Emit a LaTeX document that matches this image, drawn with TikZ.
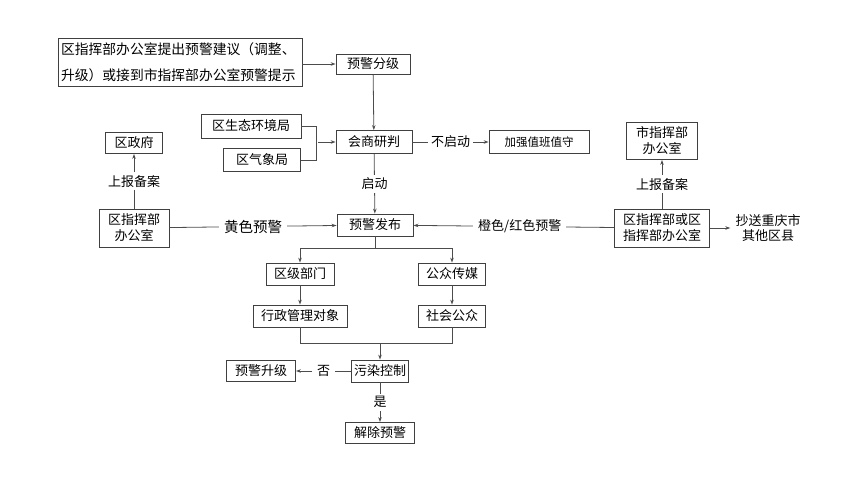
\documentclass[tikz,border=0pt]{standalone}
\usepackage{fontspec}
\setmainfont{Noto Sans CJK SC}
\usetikzlibrary{arrows.meta}
\begin{document}
\begin{tikzpicture}[x=1pt,y=-1pt]
    \tikzstyle{kuang}=[draw=black!75, line width=0.8pt, inner sep=0pt, minimum height=22pt, font=\fontsize{13}{15}\selectfont, align=center]
    \tikzstyle{lbl}=[fill=white, inner sep=3pt, font=\fontsize{13}{15}\selectfont]
    \tikzstyle{xian}=[draw=black!70, line width=0.8pt]
    \tikzstyle{jt}=[xian, -{Stealth[length=5pt,width=3.5pt]}]
    \useasboundingbox (0,0) rectangle (849,487);
    % top part
    \node[kuang, minimum width=244pt, minimum height=48pt, text width=238pt, align=left, font=\fontsize{13.8}{26}\selectfont] (tl) at (180,62) {区指挥部办公室提出预警建议（调整、\\升级）或接到市指挥部办公室预警提示};
    \node[kuang, minimum width=74pt, minimum height=20pt] (yjfj) at (373,64) {预警分级};
    \node[kuang, minimum width=100pt, minimum height=24pt] (sthj) at (251,126) {区生态环境局};
    \node[kuang, minimum width=77pt, minimum height=23pt] (qxj) at (262,160) {区气象局};
    \node[kuang, minimum width=76pt, minimum height=23pt] (hsyp) at (374,142) {会商研判};
    \node[kuang, minimum width=100pt, minimum height=23pt, font=\fontsize{11.5}{14}\selectfont] (jqzb) at (539,142) {加强值班值守};
    % left and right
    \node[kuang, minimum width=57pt, minimum height=21pt] (qzf) at (134,143) {区政府};
    \node[kuang, minimum width=70pt, minimum height=38pt, font=\fontsize{13}{16}\selectfont] (qzh) at (134,228) {区指挥部\\办公室};
    \node[kuang, minimum width=71pt, minimum height=37pt, font=\fontsize{13}{16}\selectfont] (szh) at (662,141) {市指挥部\\办公室};
    \node[kuang, minimum width=95pt, minimum height=38pt, font=\fontsize{13}{16}\selectfont] (qzhq) at (662,228) {区指挥部或区\\指挥部办公室};
    \node[align=center, inner sep=5pt, font=\fontsize{13}{16}\selectfont] (cs) at (768,228) {抄送重庆市\\其他区县};
    % middle part
    \node[kuang, minimum width=76pt] (yjfb) at (375,225) {预警发布};
    \node[kuang, minimum width=68pt] (qjbm) at (300,274) {区级部门};
    \node[kuang, minimum width=67pt] (gzcm) at (452,274) {公众传媒};
    \node[kuang, minimum width=94pt] (xzgl) at (300,316) {行政管理对象};
    \node[kuang, minimum width=67pt] (shgz) at (452,316) {社会公众};
    \node[kuang, minimum width=57pt] (wrkz) at (380,371) {污染控制};
    \node[kuang, minimum width=69pt, minimum height=21pt] (yjsj) at (261,371) {预警升级};
    \node[kuang, minimum width=69pt, minimum height=21pt] (jcyj) at (380,433) {解除预警};
    % connectors
    \draw[jt] (tl.east |- yjfj) -- (yjfj);
    \draw[jt] (yjfj) -- (hsyp);
    \draw[xian] (sthj.east) -- ++(15,0) |- (qxj.east);
    \coordinate (hz) at (318,142);
    \draw[jt] (hz) -- (hsyp.west);
    \draw[jt] (hsyp) -- node[lbl]{不启动} (jqzb);
    \draw[jt] (hsyp) -- node[lbl]{启动} (yjfb);
    \draw[jt] (qzh) -- node[lbl, inner sep=5pt, font=\fontsize{14.5}{16}\selectfont]{黄色预警} (yjfb);
    \draw[jt] (qzhq) -- node[lbl, inner sep=5pt, pos=0.47]{橙色/红色预警} (yjfb);
    \draw[jt] (qzh) -- node[lbl]{上报备案} (qzf);
    \draw[jt] (qzhq) -- node[lbl]{上报备案} (szh);
    \draw[jt] (qzhq) -- (cs);
    \draw[xian] (yjfb.south) -- ++(0,12) coordinate (fz);
    \draw[jt] (fz) -| (qjbm);
    \draw[jt] (fz) -| (gzcm);
    \draw[jt] (qjbm) -- (xzgl);
    \draw[jt] (gzcm) -- (shgz);
    \draw[xian] (xzgl.south) -- ++(0,16) -| (shgz.south);
    \coordinate (hb) at (wrkz.north |- 0,343);
    \draw[jt] (hb) -- (wrkz);
    \draw[jt] (wrkz) -- node[lbl, inner sep=5pt]{否} (yjsj);
    \draw[jt] (wrkz) -- node[lbl]{是} (jcyj);
\end{tikzpicture}
\end{document}
